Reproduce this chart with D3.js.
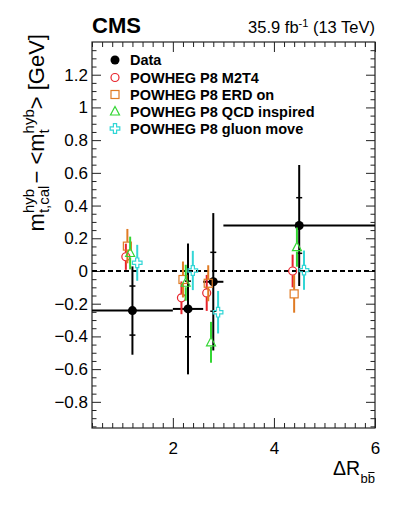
<!DOCTYPE html>
<html>
<head>
<meta charset="utf-8">
<script src="https://cdn.jsdelivr.net/npm/d3@7"></script>
<style>
  html, body { margin: 0; padding: 0; background: #fff; }
  svg { display: block; font-family: "Liberation Sans", Arial, Helvetica, sans-serif; }
</style>
</head>
<body>
<svg id="chart" width="399" height="516"></svg>
<script>
// ---------------- data ----------------
const binLow    = [0.4, 2.0, 2.6, 3.0];
const binHigh   = [2.0, 2.6, 3.0, 6.0];
const binCenter = [1.2, 2.3, 2.8, 4.5];

const dataY    = [-0.242, -0.232, -0.066, 0.278];
const dataTot  = [0.27, 0.40, 0.42, 0.37];
const dataStat = [0.15, 0.17, 0.18, 0.17];

const m2t4     = [0.087, -0.164, -0.134, 0.0];
const m2t4Err  = [0.08, 0.10, 0.11, 0.10];
const erd      = [0.152, -0.052, -0.075, -0.14];
const erdErr   = [0.105, 0.11, 0.11, 0.115];
const qcd      = [0.11, -0.072, -0.436, 0.146];
const qcdErr   = [0.10, 0.11, 0.125, 0.12];
const gluon    = [0.05, 0.003, -0.252, 0.005];
const gluonErr = [0.11, 0.12, 0.13, 0.12];

const legendLabels = ["Data", "POWHEG P8 M2T4", "POWHEG P8 ERD on", "POWHEG P8 QCD inspired", "POWHEG P8 gluon move"];
const xTickLabels = [2, 4, 6];
const yTickLabels = [-0.8, -0.6, -0.4, -0.2, 0, 0.2, 0.4, 0.6, 0.8, 1, 1.2];

// ---------------- layout ----------------
const L = 92, R = 375, T = 42, B = 428;
const svg = d3.select("#chart");
const x = d3.scaleLinear().domain([0.4, 6]).range([L, R]);
const y = d3.scaleLinear().domain([-0.96, 1.4]).range([B, T]);

const fmt = v => (v < 0 ? "\u2212" : "") + String(Math.abs(Math.round(v * 10) / 10));

// minor ticks
const xMinor = d3.range(0, 29).map(i => +(0.4 + i * 0.2).toFixed(2)).filter(v => v <= 6.0001 && xTickLabels.indexOf(Math.round(v * 10) / 10) < 0);
const yMinor = d3.range(-19, 29).map(i => +(i * 0.05).toFixed(2)).filter(v => v > -0.96 && v < 1.4 && Math.abs(v * 5 - Math.round(v * 5)) > 1e-6);
const yMajor = yTickLabels;

const axCol = "#222";
// bottom
const gB = svg.append("g").attr("transform", `translate(0,${B})`);
gB.call(d3.axisBottom(x).tickValues(xTickLabels).tickSize(-10).tickPadding(14).tickFormat(d3.format("d")));
gB.append("g").call(d3.axisBottom(x).tickValues(xMinor).tickSize(-5).tickFormat(""));
// top
const gT = svg.append("g").attr("transform", `translate(0,${T})`);
gT.call(d3.axisTop(x).tickValues(xTickLabels).tickSize(-10).tickFormat(""));
gT.append("g").call(d3.axisTop(x).tickValues(xMinor).tickSize(-5).tickFormat(""));
// left
const gL = svg.append("g").attr("transform", `translate(${L},0)`);
gL.call(d3.axisLeft(y).tickValues(yMajor).tickSize(-9).tickPadding(4).tickFormat(fmt));
gL.append("g").call(d3.axisLeft(y).tickValues(yMinor).tickSize(-4.5).tickFormat(""));
// right
const gR = svg.append("g").attr("transform", `translate(${R},0)`);
gR.call(d3.axisRight(y).tickValues(yMajor).tickSize(-9).tickFormat(""));
gR.append("g").call(d3.axisRight(y).tickValues(yMinor).tickSize(-4.5).tickFormat(""));

svg.selectAll(".domain").remove();
svg.selectAll(".tick line").attr("stroke", axCol).attr("stroke-width", 1);
svg.selectAll(".tick text").attr("font-size", 17).attr("fill", "#000")
   .attr("font-family", "Liberation Sans, Arial, sans-serif");

svg.append("rect").attr("x", L).attr("y", T).attr("width", R - L).attr("height", B - T)
   .attr("fill", "none").attr("stroke", axCol).attr("stroke-width", 1.2);

// zero line
svg.append("line").attr("x1", L).attr("x2", R).attr("y1", y(0)).attr("y2", y(0))
   .attr("stroke", "#000").attr("stroke-width", 2).attr("stroke-dasharray", "5,3");

// ---------------- data points ----------------
const gd = svg.append("g");
binCenter.forEach((c, i) => {
  gd.append("line").attr("x1", x(binLow[i])).attr("x2", x(binHigh[i]))
    .attr("y1", y(dataY[i])).attr("y2", y(dataY[i])).attr("stroke", "#000").attr("stroke-width", 2);
  gd.append("line").attr("x1", x(c)).attr("x2", x(c))
    .attr("y1", y(dataY[i] + dataTot[i])).attr("y2", y(dataY[i] - dataTot[i])).attr("stroke", "#000").attr("stroke-width", 2);
  [1, -1].forEach(s => {
    gd.append("line").attr("x1", x(c) - 3).attr("x2", x(c) + 3)
      .attr("y1", y(dataY[i] + s * dataStat[i])).attr("y2", y(dataY[i] + s * dataStat[i]))
      .attr("stroke", "#000").attr("stroke-width", 1.5);
  });
});

// ---------------- marker shapes ----------------
function drawMarker(g, type, cx, cy, color) {
  if (type === "data") {
    g.append("circle").attr("cx", cx).attr("cy", cy).attr("r", 4.5).attr("fill", "#000");
  } else if (type === "circle") {
    g.append("circle").attr("cx", cx).attr("cy", cy).attr("r", 4).attr("fill", "none")
      .attr("stroke", color).attr("stroke-width", 1.2);
  } else if (type === "square") {
    g.append("rect").attr("x", cx - 4).attr("y", cy - 4).attr("width", 8).attr("height", 8)
      .attr("fill", "none").attr("stroke", color).attr("stroke-width", 1.2);
  } else if (type === "triangle") {
    g.append("path").attr("d", `M${cx},${cy - 5} L${cx + 4.5},${cy + 3.5} L${cx - 4.5},${cy + 3.5} Z`)
      .attr("fill", "none").attr("stroke", color).attr("stroke-width", 1.2);
  } else if (type === "cross") {
    const a = 1.6, b = 4.8;
    g.append("path").attr("d",
      `M${cx - a},${cy - b} H${cx + a} V${cy - a} H${cx + b} V${cy + a} H${cx + a} V${cy + b} H${cx - a} V${cy + a} H${cx - b} V${cy - a} H${cx - a} Z`)
      .attr("fill", "none").attr("stroke", color).attr("stroke-width", 1.2);
  }
}

const mcSeries = [
  { vals: m2t4,  errs: m2t4Err,  type: "circle",   color: "#e8242c", dx: -0.13,  gap: 4.2 },
  { vals: erd,   errs: erdErr,   type: "square",   color: "#e07b24", dx: -0.10,  gap: 4.2 },
  { vals: qcd,   errs: qcdErr,   type: "triangle", color: "#33d633", dx: -0.045, gap: 4.5 },
  { vals: gluon, errs: gluonErr, type: "cross",    color: "#33d6d6", dx: 0.095,  gap: 4.8 }
];

binCenter.forEach((c, i) => {
  drawMarker(gd, "data", x(c), y(dataY[i]));
});

const gm = svg.append("g");
mcSeries.forEach(s => {
  binCenter.forEach((c, i) => {
    const cx = x(c + s.dx), cy = y(s.vals[i]);
    const yt = y(s.vals[i] + s.errs[i]), yb = y(s.vals[i] - s.errs[i]);
    gm.append("line").attr("x1", cx).attr("x2", cx).attr("y1", yt).attr("y2", cy - s.gap)
      .attr("stroke", s.color).attr("stroke-width", 2);
    gm.append("line").attr("x1", cx).attr("x2", cx).attr("y1", cy + s.gap).attr("y2", yb)
      .attr("stroke", s.color).attr("stroke-width", 2);
    drawMarker(gm, s.type, cx, cy, s.color);
  });
});

// ---------------- legend ----------------
const legTypes = ["data", "circle", "square", "triangle", "cross"];
const legColors = ["#000", "#e8242c", "#e07b24", "#33d633", "#33d6d6"];
const legY = [60, 77.5, 94.5, 111.5, 128.5];
const gl = svg.append("g");
legendLabels.forEach((lab, i) => {
  drawMarker(gl, legTypes[i], 115, legY[i], legColors[i]);
  gl.append("text").attr("x", 130).attr("y", legY[i] + 5.2).attr("font-size", 14.5)
    .attr("font-weight", "bold").attr("fill", "#000").text(lab);
});

// ---------------- header ----------------
svg.append("text").attr("x", 92).attr("y", 33).attr("font-size", 22).attr("font-weight", "bold").text("CMS");
const lum = svg.append("text").attr("x", 375).attr("y", 33).attr("font-size", 16.5).attr("text-anchor", "end");
lum.append("tspan").text("35.9 fb");
lum.append("tspan").attr("dy", -6).attr("font-size", 11).text("-1");
lum.append("tspan").attr("dy", 6).text(" (13 TeV)");

// ---------------- x title ----------------
const xt = svg.append("g");
const xMain = xt.append("text").attr("x", 0).attr("y", 475).attr("font-size", 19.5).text("\u0394R");
const wMain = xMain.node().getComputedTextLength();
const xs1 = xt.append("text").attr("x", wMain + 0.5).attr("y", 483).attr("font-size", 13).text("b");
const wb = xs1.node().getComputedTextLength();
xt.append("text").attr("x", wMain + 0.5 + wb).attr("y", 483).attr("font-size", 13).text("b");
xt.append("line").attr("x1", wMain + 0.5 + wb + 0.5).attr("x2", wMain + 0.5 + 2 * wb - 0.5)
  .attr("y1", 472.5).attr("y2", 472.5).attr("stroke", "#000").attr("stroke-width", 1);
const xtW = wMain + 0.5 + 2 * wb;
xt.attr("transform", `translate(${R - xtW},0)`);

// ---------------- y title ----------------
const yt = svg.append("g");
const fsM = 22, fsS = 15;
let pos = 0;
function piece(txt, fs, dy) {
  const t = yt.append("text").attr("x", pos).attr("y", dy).attr("font-size", fs).text(txt);
  return t.node().getComputedTextLength();
}
function stacked(sup, sub) {
  const w1 = piece(sup, fsS, -10);
  const w2 = piece(sub, fsS, 5);
  pos += Math.max(w1, w2);
}
pos += piece("m", fsM, 0);
stacked("hyb", "t,cal");
pos += 2;
pos += piece(" \u2212 <m", fsM, 0);
stacked("hyb", "t");
pos += piece("> [GeV]", fsM, 0);
yt.attr("transform", `translate(44,${34 + pos}) rotate(-90)`);
</script>
</body>
</html>
